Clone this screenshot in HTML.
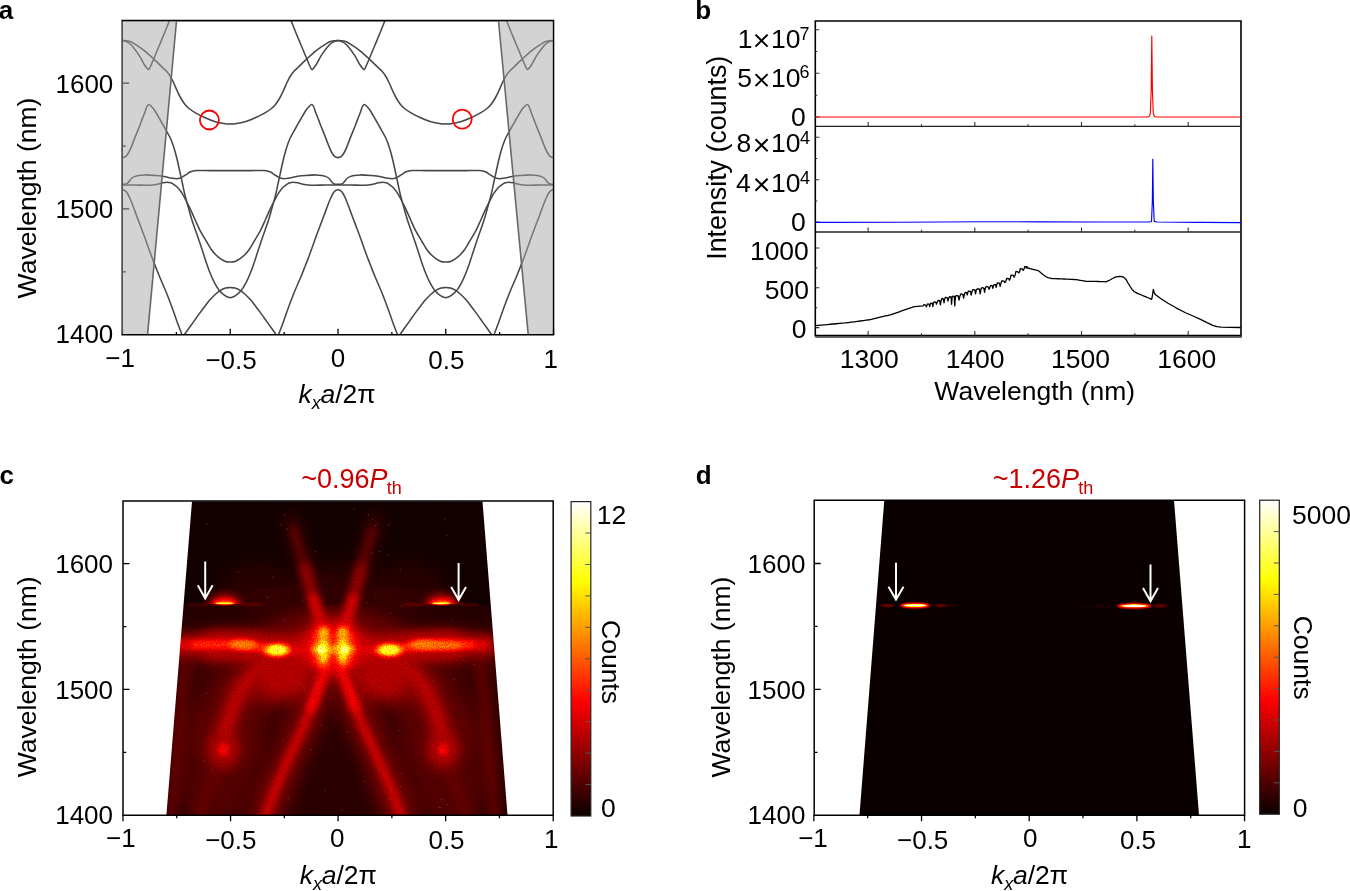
<!DOCTYPE html><html><head><meta charset="utf-8"><title>Figure</title><style>html,body{margin:0;padding:0;background:#fff;overflow:hidden}svg{display:block;will-change:transform}text{font-family:"Liberation Sans",sans-serif}</style></head><body>
<svg width="1350" height="891" viewBox="0 0 1350 891">
<rect width="1350" height="891" fill="#fff"/>
<defs>
<clipPath id="clipA"><rect x="122.2" y="20.6" width="431.3" height="314.2"/></clipPath>
<linearGradient id="hot" x1="0" y1="1" x2="0" y2="0"><stop offset="0" stop-color="#0b0000"/><stop offset="0.365" stop-color="#ff0000"/><stop offset="0.746" stop-color="#ffff00"/><stop offset="1" stop-color="#ffffff"/></linearGradient>
<filter id="b0" filterUnits="userSpaceOnUse" x="0" y="0" width="1350" height="891"><feGaussianBlur stdDeviation="0.7"/></filter>
<filter id="b1" filterUnits="userSpaceOnUse" x="0" y="0" width="1350" height="891"><feGaussianBlur stdDeviation="1"/></filter>
<filter id="b2" filterUnits="userSpaceOnUse" x="0" y="0" width="1350" height="891"><feGaussianBlur stdDeviation="2"/></filter>
<filter id="b3" filterUnits="userSpaceOnUse" x="0" y="0" width="1350" height="891"><feGaussianBlur stdDeviation="3"/></filter>
<filter id="b4" filterUnits="userSpaceOnUse" x="0" y="0" width="1350" height="891"><feGaussianBlur stdDeviation="4"/></filter>
<filter id="b5" filterUnits="userSpaceOnUse" x="0" y="0" width="1350" height="891"><feGaussianBlur stdDeviation="5"/></filter>
<filter id="b6" filterUnits="userSpaceOnUse" x="0" y="0" width="1350" height="891"><feGaussianBlur stdDeviation="6"/></filter>
<filter id="b7" filterUnits="userSpaceOnUse" x="0" y="0" width="1350" height="891"><feGaussianBlur stdDeviation="7"/></filter>
<filter id="b8" filterUnits="userSpaceOnUse" x="0" y="0" width="1350" height="891"><feGaussianBlur stdDeviation="8"/></filter>
<filter id="b9" filterUnits="userSpaceOnUse" x="0" y="0" width="1350" height="891"><feGaussianBlur stdDeviation="9"/></filter>
<filter id="b10" filterUnits="userSpaceOnUse" x="0" y="0" width="1350" height="891"><feGaussianBlur stdDeviation="10"/></filter>
<filter id="b11" filterUnits="userSpaceOnUse" x="0" y="0" width="1350" height="891"><feGaussianBlur stdDeviation="11"/></filter>
<filter id="b12" filterUnits="userSpaceOnUse" x="0" y="0" width="1350" height="891"><feGaussianBlur stdDeviation="12"/></filter>
<filter id="b13" filterUnits="userSpaceOnUse" x="0" y="0" width="1350" height="891"><feGaussianBlur stdDeviation="13"/></filter>
<filter id="b14" filterUnits="userSpaceOnUse" x="0" y="0" width="1350" height="891"><feGaussianBlur stdDeviation="14"/></filter>
<filter id="b15" filterUnits="userSpaceOnUse" x="0" y="0" width="1350" height="891"><feGaussianBlur stdDeviation="15"/></filter>
<filter id="b16" filterUnits="userSpaceOnUse" x="0" y="0" width="1350" height="891"><feGaussianBlur stdDeviation="16"/></filter>
<filter id="b17" filterUnits="userSpaceOnUse" x="0" y="0" width="1350" height="891"><feGaussianBlur stdDeviation="17"/></filter>
<filter id="b18" filterUnits="userSpaceOnUse" x="0" y="0" width="1350" height="891"><feGaussianBlur stdDeviation="18"/></filter>
<filter id="b19" filterUnits="userSpaceOnUse" x="0" y="0" width="1350" height="891"><feGaussianBlur stdDeviation="19"/></filter>
<filter id="b20" filterUnits="userSpaceOnUse" x="0" y="0" width="1350" height="891"><feGaussianBlur stdDeviation="20"/></filter>
</defs>
<g clip-path="url(#clipA)" fill="none" stroke="#474747" stroke-width="1.55" stroke-linejoin="round" stroke-linecap="round">
<path d="M122.5,40.4 C123.5,40.52 126.5,40.53 128.5,41.1 C130.5,41.67 131.82,42.18 134.5,43.8 C137.18,45.42 141.23,48.12 144.6,50.8 C147.97,53.48 151.72,57.12 154.7,59.9 C157.68,62.68 160.53,65.62 162.5,67.5 C164.47,69.38 165.28,69.87 166.5,71.2 C167.72,72.53 168.63,73.62 169.8,75.5 C170.97,77.38 172.22,79.83 173.5,82.5 C174.78,85.17 176.25,88.83 177.5,91.5 C178.75,94.17 179.75,96.33 181,98.5 C182.25,100.67 183.67,102.83 185,104.5 C186.33,106.17 187.32,107.15 189,108.5 C190.68,109.85 192.4,111.05 195.1,112.6 C197.8,114.15 201.83,116.27 205.2,117.8 C208.57,119.33 211.93,120.8 215.3,121.8 C218.67,122.8 222.99,123.45 225.4,123.8 C227.81,124.15 228.86,123.88 229.75,123.9 C230.64,123.92 229.86,123.92 230.75,123.9 C231.64,123.88 232.69,124.15 235.1,123.8 C237.51,123.45 241.83,122.8 245.2,121.8 C248.57,120.8 251.93,119.33 255.3,117.8 C258.67,116.27 262.7,114.15 265.4,112.6 C268.1,111.05 269.82,109.85 271.5,108.5 C273.18,107.15 274.17,106.17 275.5,104.5 C276.83,102.83 278.25,100.67 279.5,98.5 C280.75,96.33 281.75,94.17 283,91.5 C284.25,88.83 285.72,85.17 287,82.5 C288.28,79.83 289.53,77.38 290.7,75.5 C291.87,73.62 292.78,72.53 294,71.2 C295.22,69.87 296.03,69.38 298,67.5 C299.97,65.62 302.82,62.68 305.8,59.9 C308.78,57.12 312.53,53.48 315.9,50.8 C319.27,48.12 323.32,45.42 326,43.8 C328.68,42.18 330,41.67 332,41.1 C334,40.53 336,40.4 338,40.4 C340,40.4 342,40.53 344,41.1 C346,41.67 347.32,42.18 350,43.8 C352.68,45.42 356.73,48.12 360.1,50.8 C363.47,53.48 367.22,57.12 370.2,59.9 C373.18,62.68 376.03,65.62 378,67.5 C379.97,69.38 380.78,69.87 382,71.2 C383.22,72.53 384.13,73.62 385.3,75.5 C386.47,77.38 387.72,79.83 389,82.5 C390.28,85.17 391.75,88.83 393,91.5 C394.25,94.17 395.25,96.33 396.5,98.5 C397.75,100.67 399.17,102.83 400.5,104.5 C401.83,106.17 402.82,107.15 404.5,108.5 C406.18,109.85 407.9,111.05 410.6,112.6 C413.3,114.15 417.33,116.27 420.7,117.8 C424.07,119.33 427.43,120.8 430.8,121.8 C434.17,122.8 438.49,123.45 440.9,123.8 C443.31,124.15 444.36,123.88 445.25,123.9 C446.14,123.92 445.36,123.92 446.25,123.9 C447.14,123.88 448.19,124.15 450.6,123.8 C453.01,123.45 457.33,122.8 460.7,121.8 C464.07,120.8 467.43,119.33 470.8,117.8 C474.17,116.27 478.2,114.15 480.9,112.6 C483.6,111.05 485.32,109.85 487,108.5 C488.68,107.15 489.67,106.17 491,104.5 C492.33,102.83 493.75,100.67 495,98.5 C496.25,96.33 497.25,94.17 498.5,91.5 C499.75,88.83 501.22,85.17 502.5,82.5 C503.78,79.83 505.03,77.38 506.2,75.5 C507.37,73.62 508.28,72.53 509.5,71.2 C510.72,69.87 511.53,69.38 513.5,67.5 C515.47,65.62 518.32,62.68 521.3,59.9 C524.28,57.12 528.03,53.48 531.4,50.8 C534.77,48.12 538.82,45.42 541.5,43.8 C544.18,42.18 545.5,41.67 547.5,41.1 C549.5,40.53 552.5,40.52 553.5,40.4"/>
<path d="M122.5,40.6 C123.15,40.77 124.9,40.82 126.4,41.6 C127.9,42.38 129.48,43.17 131.5,45.3 C133.52,47.43 136.83,52.03 138.5,54.4 C140.17,56.77 140.48,57.73 141.5,59.5 C142.52,61.27 143.68,63.53 144.6,65 C145.52,66.47 146.33,67.53 147,68.3 C147.67,69.07 148.07,69.82 148.6,69.6 C149.13,69.38 149.22,69.1 150.2,67 C151.18,64.9 152.95,60.67 154.5,57 C156.05,53.33 157.83,49 159.5,45 C161.17,41 162.87,37 164.5,33 C166.13,29 167.63,25.17 169.3,21 C170.97,16.83 173.63,10.17 174.5,8"/>
<path d="M286,8 C286.87,10.17 289.53,16.83 291.2,21 C292.87,25.17 294.37,29 296,33 C297.63,37 299.33,41 301,45 C302.67,49 304.45,53.33 306,57 C307.55,60.67 309.32,64.9 310.3,67 C311.28,69.1 311.37,69.38 311.9,69.6 C312.43,69.82 312.83,69.07 313.5,68.3 C314.17,67.53 314.98,66.47 315.9,65 C316.82,63.53 317.98,61.27 319,59.5 C320.02,57.73 320.33,56.77 322,54.4 C323.67,52.03 326.98,47.43 329,45.3 C331.02,43.17 332.6,42.38 334.1,41.6 C335.6,40.82 336.7,40.6 338,40.6 C339.3,40.6 340.4,40.82 341.9,41.6 C343.4,42.38 344.98,43.17 347,45.3 C349.02,47.43 352.33,52.03 354,54.4 C355.67,56.77 355.98,57.73 357,59.5 C358.02,61.27 359.18,63.53 360.1,65 C361.02,66.47 361.83,67.53 362.5,68.3 C363.17,69.07 363.57,69.82 364.1,69.6 C364.63,69.38 364.72,69.1 365.7,67 C366.68,64.9 368.45,60.67 370,57 C371.55,53.33 373.33,49 375,45 C376.67,41 378.37,37 380,33 C381.63,29 383.13,25.17 384.8,21 C386.47,16.83 389.13,10.17 390,8"/>
<path d="M501.5,8 C502.37,10.17 505.03,16.83 506.7,21 C508.37,25.17 509.87,29 511.5,33 C513.13,37 514.83,41 516.5,45 C518.17,49 519.95,53.33 521.5,57 C523.05,60.67 524.82,64.9 525.8,67 C526.78,69.1 526.87,69.38 527.4,69.6 C527.93,69.82 528.33,69.07 529,68.3 C529.67,67.53 530.48,66.47 531.4,65 C532.32,63.53 533.48,61.27 534.5,59.5 C535.52,57.73 535.83,56.77 537.5,54.4 C539.17,52.03 542.48,47.43 544.5,45.3 C546.52,43.17 548.1,42.38 549.6,41.6 C551.1,40.82 552.85,40.77 553.5,40.6"/>
<path d="M122.5,157.6 C123.08,157.38 124.92,157.23 126,156.3 C127.08,155.37 128.08,153.63 129,152 C129.92,150.37 130.58,148.73 131.5,146.5 C132.42,144.27 133.17,141.97 134.5,138.6 C135.83,135.23 138.25,129.47 139.5,126.3 C140.75,123.13 141.15,121.82 142,119.6 C142.85,117.38 143.78,115.18 144.6,113 C145.42,110.82 146.2,107.9 146.9,106.5 C147.6,105.1 148.12,104.68 148.8,104.6 C149.48,104.52 150.02,105.02 151,106 C151.98,106.98 153.25,108.33 154.7,110.5 C156.15,112.67 158.02,116.08 159.7,119 C161.38,121.92 163.12,125 164.8,128 C166.48,131 168.52,134.42 169.8,137 C171.08,139.58 171.65,141.17 172.5,143.5 C173.35,145.83 174.07,148.08 174.9,151 C175.73,153.92 176.67,157.5 177.5,161 C178.33,164.5 179.15,168.58 179.9,172 C180.65,175.42 181.15,177.62 182,181.5 C182.85,185.38 183.92,190.88 185,195.3 C186.08,199.72 187.32,203.8 188.5,208 C189.68,212.2 190.6,215.83 192.1,220.5 C193.6,225.17 195.82,231.08 197.5,236 C199.18,240.92 200.58,245.13 202.2,250 C203.82,254.87 205.82,261.2 207.2,265.2 C208.58,269.2 209.32,271.15 210.5,274 C211.68,276.85 212.83,279.57 214.3,282.3 C215.77,285.03 217.45,288.15 219.3,290.4 C221.15,292.65 223.66,294.6 225.4,295.8 C227.14,297 228.86,297.3 229.75,297.6 C230.64,297.9 229.86,297.9 230.75,297.6 C231.64,297.3 233.36,297 235.1,295.8 C236.84,294.6 239.35,292.65 241.2,290.4 C243.05,288.15 244.73,285.03 246.2,282.3 C247.67,279.57 248.82,276.85 250,274 C251.18,271.15 251.92,269.2 253.3,265.2 C254.68,261.2 256.68,254.87 258.3,250 C259.92,245.13 261.32,240.92 263,236 C264.68,231.08 266.9,225.17 268.4,220.5 C269.9,215.83 270.82,212.2 272,208 C273.18,203.8 274.42,199.72 275.5,195.3 C276.58,190.88 277.65,185.38 278.5,181.5 C279.35,177.62 279.85,175.42 280.6,172 C281.35,168.58 282.17,164.5 283,161 C283.83,157.5 284.77,153.92 285.6,151 C286.43,148.08 287.15,145.83 288,143.5 C288.85,141.17 289.42,139.58 290.7,137 C291.98,134.42 294.02,131 295.7,128 C297.38,125 299.12,121.92 300.8,119 C302.48,116.08 304.35,112.67 305.8,110.5 C307.25,108.33 308.52,106.98 309.5,106 C310.48,105.02 311.02,104.52 311.7,104.6 C312.38,104.68 312.9,105.1 313.6,106.5 C314.3,107.9 315.08,110.82 315.9,113 C316.72,115.18 317.65,117.38 318.5,119.6 C319.35,121.82 319.75,123.13 321,126.3 C322.25,129.47 324.67,135.23 326,138.6 C327.33,141.97 328.08,144.27 329,146.5 C329.92,148.73 330.58,150.37 331.5,152 C332.42,153.63 333.42,155.37 334.5,156.3 C335.58,157.23 336.83,157.6 338,157.6 C339.17,157.6 340.42,157.23 341.5,156.3 C342.58,155.37 343.58,153.63 344.5,152 C345.42,150.37 346.08,148.73 347,146.5 C347.92,144.27 348.67,141.97 350,138.6 C351.33,135.23 353.75,129.47 355,126.3 C356.25,123.13 356.65,121.82 357.5,119.6 C358.35,117.38 359.28,115.18 360.1,113 C360.92,110.82 361.7,107.9 362.4,106.5 C363.1,105.1 363.62,104.68 364.3,104.6 C364.98,104.52 365.52,105.02 366.5,106 C367.48,106.98 368.75,108.33 370.2,110.5 C371.65,112.67 373.52,116.08 375.2,119 C376.88,121.92 378.62,125 380.3,128 C381.98,131 384.02,134.42 385.3,137 C386.58,139.58 387.15,141.17 388,143.5 C388.85,145.83 389.57,148.08 390.4,151 C391.23,153.92 392.17,157.5 393,161 C393.83,164.5 394.65,168.58 395.4,172 C396.15,175.42 396.65,177.62 397.5,181.5 C398.35,185.38 399.42,190.88 400.5,195.3 C401.58,199.72 402.82,203.8 404,208 C405.18,212.2 406.1,215.83 407.6,220.5 C409.1,225.17 411.32,231.08 413,236 C414.68,240.92 416.08,245.13 417.7,250 C419.32,254.87 421.32,261.2 422.7,265.2 C424.08,269.2 424.82,271.15 426,274 C427.18,276.85 428.33,279.57 429.8,282.3 C431.27,285.03 432.95,288.15 434.8,290.4 C436.65,292.65 439.16,294.6 440.9,295.8 C442.64,297 444.36,297.3 445.25,297.6 C446.14,297.9 445.36,297.9 446.25,297.6 C447.14,297.3 448.86,297 450.6,295.8 C452.34,294.6 454.85,292.65 456.7,290.4 C458.55,288.15 460.23,285.03 461.7,282.3 C463.17,279.57 464.32,276.85 465.5,274 C466.68,271.15 467.42,269.2 468.8,265.2 C470.18,261.2 472.18,254.87 473.8,250 C475.42,245.13 476.82,240.92 478.5,236 C480.18,231.08 482.4,225.17 483.9,220.5 C485.4,215.83 486.32,212.2 487.5,208 C488.68,203.8 489.92,199.72 491,195.3 C492.08,190.88 493.15,185.38 494,181.5 C494.85,177.62 495.35,175.42 496.1,172 C496.85,168.58 497.67,164.5 498.5,161 C499.33,157.5 500.27,153.92 501.1,151 C501.93,148.08 502.65,145.83 503.5,143.5 C504.35,141.17 504.92,139.58 506.2,137 C507.48,134.42 509.52,131 511.2,128 C512.88,125 514.62,121.92 516.3,119 C517.98,116.08 519.85,112.67 521.3,110.5 C522.75,108.33 524.02,106.98 525,106 C525.98,105.02 526.52,104.52 527.2,104.6 C527.88,104.68 528.4,105.1 529.1,106.5 C529.8,107.9 530.58,110.82 531.4,113 C532.22,115.18 533.15,117.38 534,119.6 C534.85,121.82 535.25,123.13 536.5,126.3 C537.75,129.47 540.17,135.23 541.5,138.6 C542.83,141.97 543.58,144.27 544.5,146.5 C545.42,148.73 546.08,150.37 547,152 C547.92,153.63 548.92,155.37 550,156.3 C551.08,157.23 552.92,157.38 553.5,157.6"/>
<path d="M122.5,184.2 C123.08,184.17 125.08,184.23 126,184 C126.92,183.77 127.33,183.43 128,182.8 C128.67,182.17 129.33,181 130,180.2 C130.67,179.4 131.25,178.6 132,178 C132.75,177.4 133.42,177.02 134.5,176.6 C135.58,176.18 136.82,175.78 138.5,175.5 C140.18,175.22 141.77,174.92 144.6,174.9 C147.43,174.88 152.47,175.18 155.5,175.4 C158.53,175.62 160.92,175.92 162.8,176.2 C164.68,176.48 165.18,176.75 166.8,177.1 C168.42,177.45 170.88,178.03 172.5,178.3 C174.12,178.57 175.33,178.7 176.5,178.7 C177.67,178.7 178.42,178.63 179.5,178.3 C180.58,177.97 181.83,177.37 183,176.7 C184.17,176.03 185.33,175.08 186.5,174.3 C187.67,173.52 188.83,172.55 190,172 C191.17,171.45 192.32,171.23 193.5,171 C194.68,170.77 194.27,170.67 197.1,170.6 C199.93,170.53 205.06,170.6 210.5,170.6 C215.94,170.6 226.38,170.6 229.75,170.6 C233.12,170.6 227.38,170.6 230.75,170.6 C234.12,170.6 244.56,170.6 250,170.6 C255.44,170.6 260.57,170.53 263.4,170.6 C266.23,170.67 265.82,170.77 267,171 C268.18,171.23 269.33,171.45 270.5,172 C271.67,172.55 272.83,173.52 274,174.3 C275.17,175.08 276.33,176.03 277.5,176.7 C278.67,177.37 279.92,177.97 281,178.3 C282.08,178.63 282.83,178.7 284,178.7 C285.17,178.7 286.38,178.57 288,178.3 C289.62,178.03 292.08,177.45 293.7,177.1 C295.32,176.75 295.82,176.48 297.7,176.2 C299.58,175.92 301.97,175.62 305,175.4 C308.03,175.18 313.07,174.88 315.9,174.9 C318.73,174.92 320.32,175.22 322,175.5 C323.68,175.78 324.92,176.18 326,176.6 C327.08,177.02 327.75,177.4 328.5,178 C329.25,178.6 329.83,179.4 330.5,180.2 C331.17,181 331.83,182.17 332.5,182.8 C333.17,183.43 333.58,183.77 334.5,184 C335.42,184.23 336.83,184.2 338,184.2 C339.17,184.2 340.58,184.23 341.5,184 C342.42,183.77 342.83,183.43 343.5,182.8 C344.17,182.17 344.83,181 345.5,180.2 C346.17,179.4 346.75,178.6 347.5,178 C348.25,177.4 348.92,177.02 350,176.6 C351.08,176.18 352.32,175.78 354,175.5 C355.68,175.22 357.27,174.92 360.1,174.9 C362.93,174.88 367.97,175.18 371,175.4 C374.03,175.62 376.42,175.92 378.3,176.2 C380.18,176.48 380.68,176.75 382.3,177.1 C383.92,177.45 386.38,178.03 388,178.3 C389.62,178.57 390.83,178.7 392,178.7 C393.17,178.7 393.92,178.63 395,178.3 C396.08,177.97 397.33,177.37 398.5,176.7 C399.67,176.03 400.83,175.08 402,174.3 C403.17,173.52 404.33,172.55 405.5,172 C406.67,171.45 407.82,171.23 409,171 C410.18,170.77 409.77,170.67 412.6,170.6 C415.43,170.53 420.56,170.6 426,170.6 C431.44,170.6 441.88,170.6 445.25,170.6 C448.62,170.6 442.88,170.6 446.25,170.6 C449.62,170.6 460.06,170.6 465.5,170.6 C470.94,170.6 476.07,170.53 478.9,170.6 C481.73,170.67 481.32,170.77 482.5,171 C483.68,171.23 484.83,171.45 486,172 C487.17,172.55 488.33,173.52 489.5,174.3 C490.67,175.08 491.83,176.03 493,176.7 C494.17,177.37 495.42,177.97 496.5,178.3 C497.58,178.63 498.33,178.7 499.5,178.7 C500.67,178.7 501.88,178.57 503.5,178.3 C505.12,178.03 507.58,177.45 509.2,177.1 C510.82,176.75 511.32,176.48 513.2,176.2 C515.08,175.92 517.47,175.62 520.5,175.4 C523.53,175.18 528.57,174.88 531.4,174.9 C534.23,174.92 535.82,175.22 537.5,175.5 C539.18,175.78 540.42,176.18 541.5,176.6 C542.58,177.02 543.25,177.4 544,178 C544.75,178.6 545.33,179.4 546,180.2 C546.67,181 547.33,182.17 548,182.8 C548.67,183.43 549.08,183.77 550,184 C550.92,184.23 552.92,184.17 553.5,184.2"/>
<path d="M122.5,185 C124.5,185 130.67,184.97 134.5,185 C138.33,185.03 142.47,185.18 145.5,185.2 C148.53,185.22 150.53,185.32 152.7,185.1 C154.87,184.88 156.82,184.3 158.5,183.9 C160.18,183.5 161.63,182.95 162.8,182.7 C163.97,182.45 164.5,182.45 165.5,182.4 C166.5,182.35 167.8,182.3 168.8,182.4 C169.8,182.5 170.48,182.52 171.5,183 C172.52,183.48 173.73,184.38 174.9,185.3 C176.07,186.22 177.32,187.18 178.5,188.5 C179.68,189.82 180.83,191.37 182,193.2 C183.17,195.03 184.17,196.97 185.5,199.5 C186.83,202.03 188.42,205.07 190,208.4 C191.58,211.73 193.32,215.8 195,219.5 C196.68,223.2 198.18,226.93 200.1,230.6 C202.02,234.27 204.63,238.35 206.5,241.5 C208.37,244.65 209.8,247.33 211.3,249.5 C212.8,251.67 214,252.98 215.5,254.5 C217,256.02 218.63,257.45 220.3,258.6 C221.97,259.75 223.93,260.83 225.5,261.4 C227.07,261.97 228.88,261.9 229.75,262 C230.62,262.1 229.88,262.1 230.75,262 C231.62,261.9 233.43,261.97 235,261.4 C236.57,260.83 238.53,259.75 240.2,258.6 C241.87,257.45 243.5,256.02 245,254.5 C246.5,252.98 247.7,251.67 249.2,249.5 C250.7,247.33 252.13,244.65 254,241.5 C255.87,238.35 258.48,234.27 260.4,230.6 C262.32,226.93 263.82,223.2 265.5,219.5 C267.18,215.8 268.92,211.73 270.5,208.4 C272.08,205.07 273.67,202.03 275,199.5 C276.33,196.97 277.33,195.03 278.5,193.2 C279.67,191.37 280.82,189.82 282,188.5 C283.18,187.18 284.43,186.22 285.6,185.3 C286.77,184.38 287.98,183.48 289,183 C290.02,182.52 290.7,182.5 291.7,182.4 C292.7,182.3 294,182.35 295,182.4 C296,182.45 296.53,182.45 297.7,182.7 C298.87,182.95 300.32,183.5 302,183.9 C303.68,184.3 305.63,184.88 307.8,185.1 C309.97,185.32 311.97,185.22 315,185.2 C318.03,185.18 322.17,185.03 326,185 C329.83,184.97 334,185 338,185 C342,185 346.17,184.97 350,185 C353.83,185.03 357.97,185.18 361,185.2 C364.03,185.22 366.03,185.32 368.2,185.1 C370.37,184.88 372.32,184.3 374,183.9 C375.68,183.5 377.13,182.95 378.3,182.7 C379.47,182.45 380,182.45 381,182.4 C382,182.35 383.3,182.3 384.3,182.4 C385.3,182.5 385.98,182.52 387,183 C388.02,183.48 389.23,184.38 390.4,185.3 C391.57,186.22 392.82,187.18 394,188.5 C395.18,189.82 396.33,191.37 397.5,193.2 C398.67,195.03 399.67,196.97 401,199.5 C402.33,202.03 403.92,205.07 405.5,208.4 C407.08,211.73 408.82,215.8 410.5,219.5 C412.18,223.2 413.68,226.93 415.6,230.6 C417.52,234.27 420.13,238.35 422,241.5 C423.87,244.65 425.3,247.33 426.8,249.5 C428.3,251.67 429.5,252.98 431,254.5 C432.5,256.02 434.13,257.45 435.8,258.6 C437.47,259.75 439.43,260.83 441,261.4 C442.57,261.97 444.38,261.9 445.25,262 C446.12,262.1 445.38,262.1 446.25,262 C447.12,261.9 448.93,261.97 450.5,261.4 C452.07,260.83 454.03,259.75 455.7,258.6 C457.37,257.45 459,256.02 460.5,254.5 C462,252.98 463.2,251.67 464.7,249.5 C466.2,247.33 467.63,244.65 469.5,241.5 C471.37,238.35 473.98,234.27 475.9,230.6 C477.82,226.93 479.32,223.2 481,219.5 C482.68,215.8 484.42,211.73 486,208.4 C487.58,205.07 489.17,202.03 490.5,199.5 C491.83,196.97 492.83,195.03 494,193.2 C495.17,191.37 496.32,189.82 497.5,188.5 C498.68,187.18 499.93,186.22 501.1,185.3 C502.27,184.38 503.48,183.48 504.5,183 C505.52,182.52 506.2,182.5 507.2,182.4 C508.2,182.3 509.5,182.35 510.5,182.4 C511.5,182.45 512.03,182.45 513.2,182.7 C514.37,182.95 515.82,183.5 517.5,183.9 C519.18,184.3 521.13,184.88 523.3,185.1 C525.47,185.32 527.47,185.22 530.5,185.2 C533.53,185.18 537.67,185.03 541.5,185 C545.33,184.97 551.5,185 553.5,185"/>
<path d="M179.5,342 C180.25,340.87 182.25,337.73 184,335.2 C185.75,332.67 188.17,329.38 190,326.8 C191.83,324.22 193.32,322.07 195,319.7 C196.68,317.33 198.35,314.97 200.1,312.6 C201.85,310.23 203.82,307.67 205.5,305.5 C207.18,303.33 208.53,301.47 210.2,299.6 C211.87,297.73 213.82,295.83 215.5,294.3 C217.18,292.77 218.63,291.45 220.3,290.4 C221.97,289.35 223.93,288.47 225.5,288 C227.07,287.53 228.88,287.67 229.75,287.6 C230.62,287.53 229.88,287.53 230.75,287.6 C231.62,287.67 233.43,287.53 235,288 C236.57,288.47 238.53,289.35 240.2,290.4 C241.87,291.45 243.32,292.77 245,294.3 C246.68,295.83 248.63,297.73 250.3,299.6 C251.97,301.47 253.32,303.33 255,305.5 C256.68,307.67 258.65,310.23 260.4,312.6 C262.15,314.97 263.82,317.33 265.5,319.7 C267.18,322.07 268.67,324.22 270.5,326.8 C272.33,329.38 274.75,332.67 276.5,335.2 C278.25,337.73 280.25,340.87 281,342"/>
<path d="M395,342 C395.75,340.87 397.75,337.73 399.5,335.2 C401.25,332.67 403.67,329.38 405.5,326.8 C407.33,324.22 408.82,322.07 410.5,319.7 C412.18,317.33 413.85,314.97 415.6,312.6 C417.35,310.23 419.32,307.67 421,305.5 C422.68,303.33 424.03,301.47 425.7,299.6 C427.37,297.73 429.32,295.83 431,294.3 C432.68,292.77 434.13,291.45 435.8,290.4 C437.47,289.35 439.43,288.47 441,288 C442.57,287.53 444.38,287.67 445.25,287.6 C446.12,287.53 445.38,287.53 446.25,287.6 C447.12,287.67 448.93,287.53 450.5,288 C452.07,288.47 454.03,289.35 455.7,290.4 C457.37,291.45 458.82,292.77 460.5,294.3 C462.18,295.83 464.13,297.73 465.8,299.6 C467.47,301.47 468.82,303.33 470.5,305.5 C472.18,307.67 474.15,310.23 475.9,312.6 C477.65,314.97 479.32,317.33 481,319.7 C482.68,322.07 484.17,324.22 486,326.8 C487.83,329.38 490.25,332.67 492,335.2 C493.75,337.73 495.75,340.87 496.5,342"/>
<path d="M122.5,189.7 C122.92,189.85 124.17,189.97 125,190.6 C125.83,191.23 126.67,192.18 127.5,193.5 C128.33,194.82 129.08,196.42 130,198.5 C130.92,200.58 131.92,203.17 133,206 C134.08,208.83 135.25,212.17 136.5,215.5 C137.75,218.83 139.15,222.42 140.5,226 C141.85,229.58 143.27,233.33 144.6,237 C145.93,240.67 147.27,244.58 148.5,248 C149.73,251.42 150.83,254.42 152,257.5 C153.17,260.58 154.22,263.25 155.5,266.5 C156.78,269.75 158.03,273 159.7,277 C161.37,281 163.82,286.42 165.5,290.5 C167.18,294.58 168.47,298 169.8,301.5 C171.13,305 172.22,307.92 173.5,311.5 C174.78,315.08 176.08,319.15 177.5,323 C178.92,326.85 180.75,331.43 182,334.6 C183.25,337.77 184.5,340.77 185,342"/>
<path d="M275.5,342 C276,340.77 277.25,337.77 278.5,334.6 C279.75,331.43 281.58,326.85 283,323 C284.42,319.15 285.72,315.08 287,311.5 C288.28,307.92 289.37,305 290.7,301.5 C292.03,298 293.32,294.58 295,290.5 C296.68,286.42 299.13,281 300.8,277 C302.47,273 303.72,269.75 305,266.5 C306.28,263.25 307.33,260.58 308.5,257.5 C309.67,254.42 310.77,251.42 312,248 C313.23,244.58 314.57,240.67 315.9,237 C317.23,233.33 318.65,229.58 320,226 C321.35,222.42 322.75,218.83 324,215.5 C325.25,212.17 326.42,208.83 327.5,206 C328.58,203.17 329.58,200.58 330.5,198.5 C331.42,196.42 332.17,194.82 333,193.5 C333.83,192.18 334.67,191.23 335.5,190.6 C336.33,189.97 337.17,189.7 338,189.7 C338.83,189.7 339.67,189.97 340.5,190.6 C341.33,191.23 342.17,192.18 343,193.5 C343.83,194.82 344.58,196.42 345.5,198.5 C346.42,200.58 347.42,203.17 348.5,206 C349.58,208.83 350.75,212.17 352,215.5 C353.25,218.83 354.65,222.42 356,226 C357.35,229.58 358.77,233.33 360.1,237 C361.43,240.67 362.77,244.58 364,248 C365.23,251.42 366.33,254.42 367.5,257.5 C368.67,260.58 369.72,263.25 371,266.5 C372.28,269.75 373.53,273 375.2,277 C376.87,281 379.32,286.42 381,290.5 C382.68,294.58 383.97,298 385.3,301.5 C386.63,305 387.72,307.92 389,311.5 C390.28,315.08 391.58,319.15 393,323 C394.42,326.85 396.25,331.43 397.5,334.6 C398.75,337.77 400,340.77 400.5,342"/>
<path d="M491,342 C491.5,340.77 492.75,337.77 494,334.6 C495.25,331.43 497.08,326.85 498.5,323 C499.92,319.15 501.22,315.08 502.5,311.5 C503.78,307.92 504.87,305 506.2,301.5 C507.53,298 508.82,294.58 510.5,290.5 C512.18,286.42 514.63,281 516.3,277 C517.97,273 519.22,269.75 520.5,266.5 C521.78,263.25 522.83,260.58 524,257.5 C525.17,254.42 526.27,251.42 527.5,248 C528.73,244.58 530.07,240.67 531.4,237 C532.73,233.33 534.15,229.58 535.5,226 C536.85,222.42 538.25,218.83 539.5,215.5 C540.75,212.17 541.92,208.83 543,206 C544.08,203.17 545.08,200.58 546,198.5 C546.92,196.42 547.67,194.82 548.5,193.5 C549.33,192.18 550.17,191.23 551,190.6 C551.83,189.97 553.08,189.85 553.5,189.7"/>
</g>
<g fill="none" stroke="#000" stroke-width="1.6">
<path d="M122.2,20.6 H553.5 V334.8 H122.2 Z"/>
</g>
<path d="M122.5,334.8 v-6 M230.25,334.8 v-6 M338,334.8 v-6 M445.75,334.8 v-6 M553.5,334.8 v-6 M176.38,334.8 v-2.8 M284.12,334.8 v-2.8 M391.88,334.8 v-2.8 M499.62,334.8 v-2.8 M122.2,208.96 h7 M122.2,83.12 h7 M122.2,271.88 h3.5 M122.2,146.04 h3.5" stroke="#000" stroke-width="1.3" fill="none"/>
<path d="M121.3,21.3 L176.5,21.3 L147.6,334.1 L121.3,334.1 Z" fill="rgb(167,167,167)" fill-opacity="0.5"/>
<path d="M498.5,21.3 L552.8,21.3 L552.8,334.1 L528.2,334.1 Z" fill="rgb(167,167,167)" fill-opacity="0.5"/>
<path d="M176.5,21 L147.6,334.4 M498.5,21 L528.2,334.4" stroke="#686868" stroke-width="1.6" fill="none"/>
<circle cx="209.4" cy="120" r="9.5" fill="none" stroke="#ff0000" stroke-width="1.8"/>
<circle cx="462.2" cy="119.2" r="9.5" fill="none" stroke="#ff0000" stroke-width="1.8"/>
<text x="-1.36" y="19.1" font-size="26" font-weight="bold" fill="#000">a</text>
<text x="55.49" y="92.8" font-size="26" fill="#000">1600</text>
<text x="55.49" y="218.3" font-size="26" fill="#000">1500</text>
<text x="55.49" y="343.2" font-size="26" fill="#000">1400</text>
<text x="105.28" y="366.8" font-size="26" fill="#000">−1</text>
<text x="205.39" y="368.7" font-size="26" fill="#000">−0.5</text>
<text x="330.69" y="366.8" font-size="26" fill="#000">0</text>
<text x="428.23" y="368.9" font-size="26" fill="#000">0.5</text>
<text x="543.46" y="367.9" font-size="26" fill="#000">1</text>
<text transform="translate(36,198) rotate(-90)" text-anchor="middle" font-size="26.5" fill="#000">Wavelength (nm)</text>
<text x="298.55" y="402.8" font-size="26.5" font-style="italic" fill="#000">k</text>
<text x="311.8" y="409.4" font-size="18" font-style="italic">x</text>
<text x="320.5" y="402.8" font-size="26.5"><tspan font-style="italic">a</tspan>/2π</text>
<path d="M815.3,21 H1241 V335.6 H815.3 Z" fill="none" stroke="#000" stroke-width="1.6"/>
<path d="M815.3,337.1 H1241.8 M1241,335 V337.8" fill="none" stroke="#333" stroke-width="1.1"/>
<path d="M815.3,126.4 H1241 M815.3,232 H1241" stroke="#222" stroke-width="1.3" fill="none"/>
<path d="M868.14,126.4 v-4.4 M974.82,126.4 v-4.4 M1081.5,126.4 v-4.4 M1188.18,126.4 v-4.4 M921.48,126.4 v-2.2 M1028.16,126.4 v-2.2 M1134.84,126.4 v-2.2 M868.14,232 v-4.4 M974.82,232 v-4.4 M1081.5,232 v-4.4 M1188.18,232 v-4.4 M921.48,232 v-2.2 M1028.16,232 v-2.2 M1134.84,232 v-2.2 M868.14,335.4 v-4.4 M974.82,335.4 v-4.4 M1081.5,335.4 v-4.4 M1188.18,335.4 v-4.4 M921.48,335.4 v-2.2 M1028.16,335.4 v-2.2 M1134.84,335.4 v-2.2 M815.3,29.7 h4 M815.3,73.2 h4 M815.3,117 h4 M815.3,137.2 h4 M815.3,179.7 h4 M815.3,222 h4 M815.3,248 h4 M815.3,287.8 h4 M815.3,327.6 h4 M815.3,51.5 h2 M815.3,95.2 h2 M815.3,158.5 h2 M815.3,201 h2 M815.3,267.9 h2 M815.3,307.7 h2" stroke="#333" stroke-width="1.1" fill="none"/>
<path d="M815.5,117 L1146.5,117 L1149,116.6 L1150.3,114 L1151.2,90 L1151.8,36 L1152.4,90 L1153.3,114 L1154.6,116.6 L1157,117 L1241,117" fill="none" stroke="#ff0000" stroke-width="1.15" stroke-linejoin="round"/>
<path d="M815.5,222.4 L900,222.2 L980,221.7 L1040,221.8 L1100,222 L1149,222 L1151.5,221.5 L1152.4,200 L1152.8,159.2 L1153.3,200 L1154.2,221.4 L1157,222 L1200,222.4 L1241,222.6" fill="none" stroke="#0000ff" stroke-width="1.15" stroke-linejoin="round"/>
<path d="M815.3,325.6 L818.3,325.33 L821.3,325.07 L824.3,324.8 L827.3,324.53 L830.3,324.26 L833.3,324 L836.3,323.73 L839.3,323.46 L842.3,323.19 L845.3,322.93 L848.3,322.55 L851.3,322.16 L854.3,321.77 L857.3,321.38 L860.3,320.99 L863.3,320.6 L866.3,320.21 L869.3,319.76 L872.3,319.05 L875.3,318.35 L878.3,317.65 L881.3,316.94 L884.3,316.24 L887.3,315.53 L890.3,314.8 L893.3,313.78 L896.3,312.77 L899.3,311.76 L902.3,310.74 L905.3,309.7 L908.3,308.63 L911.3,307.55 L914.3,306.73 L917.3,306.3 L920.3,306.04 L923.3,305.83 L924,304.72 L925.67,305.14 L926.3,306.87 L926.97,305.24 L927.71,303.82 L929.13,304.1 L929.67,306.54 L930.24,304.2 L930.87,303.1 L932.28,303.22 L932.81,306.68 L933.37,303.32 L934,301.97 L935.78,302.12 L936.45,304.18 L937.16,302.22 L937.95,300.41 L939.72,300.57 L940.39,304.79 L941.1,300.67 L941.89,298.45 L943.46,299.03 L944.05,302.79 L944.68,299.13 L945.38,297.27 L947.3,297.86 L948.03,301.03 L948.79,297.96 L949.65,296.54 L951.04,296.79 L951.57,304.32 L952.13,296.89 L952.75,296.11 L954.24,296.36 L954.81,305.96 L955.4,296.46 L956.07,295.56 L958.23,295.95 L959.04,300.13 L959.9,296.05 L960.86,293.9 L962.85,294.27 L963.59,298 L964.39,294.37 L965.27,292.4 L966.68,292.6 L967.21,294.97 L967.78,292.7 L968.41,291.03 L970.43,291.29 L971.2,295.21 L972,291.39 L972.9,289.58 L974.83,289.83 L975.56,293.84 L976.33,289.93 L977.19,288.78 L979.33,289 L980.14,293.77 L980.99,289.1 L981.94,287.55 L983.86,288.09 L984.58,292.33 L985.35,288.19 L986.2,286.49 L988.28,287.08 L989.06,289.38 L989.89,287.18 L990.81,285.38 L992.28,285.86 L992.83,288.43 L993.42,285.96 L994.07,284.6 L995.57,284.71 L996.14,287.43 L996.74,284.81 L997.4,282.79 L999.41,283.18 L1000.17,286.39 L1000.98,283.28 L1001.87,280.78 L1004.09,281.23 L1004.93,282.58 L1005.81,281.33 L1006.8,278.28 L1008.74,278.61 L1009.47,280.2 L1010.24,278.71 L1011.11,275.02 L1013.29,275.36 L1014.11,277.22 L1014.98,275.46 L1015.95,271.45 L1017.96,271.9 L1018.72,272.79 L1019.52,272 L1020.42,268.53 L1022.41,269.04 L1023.16,270.43 L1023.95,269.14 L1024.84,266.47 L1026.47,266.9 L1027.09,268.01 L1027.74,267 L1026,267.77 L1028,268.24 L1030,268.7 L1032,269.15 L1034,269.6 L1036,270.05 L1038,270.51 L1040,271.96 L1042,273.65 L1044,275.26 L1046,276.77 L1048,277.62 L1050,278.11 L1052,278.6 L1054,278.65 L1056,278.7 L1058,278.75 L1060,278.8 L1062,278.9 L1064,279 L1066,279.1 L1068,279.2 L1070,279.29 L1072,279.39 L1074,279.49 L1076,279.59 L1078,279.92 L1080,280.27 L1082,280.63 L1084,280.98 L1086,281.3 L1088,281.32 L1090,281.34 L1092,281.36 L1094,281.38 L1096,281.4 L1098,281.48 L1100,281.56 L1102,281.64 L1104,281.72 L1106,281.8 L1108,280.94 L1110,279.98 L1112,278.72 L1114,277.71 L1116,276.8 L1118,276.55 L1120,276.3 L1122,276.63 L1124,277.41 L1126,279.44 L1128,283 L1130,286.24 L1132,289.33 L1134,291.5 L1136,292.55 L1138,293.6 L1140,294.43 L1142,295.26 L1144,296.09 L1146,296.92 L1148,297.77 L1150,298.62 L1151.6,299.3 L1152.2,297 L1153.3,289.5 L1154.2,292.5 L1155.3,294.6 L1161,298.8 L1168,303.2 L1176,307.8 L1185,312.5 L1193,316 L1200,319.1 L1207,322.7 L1212.7,325.4 L1217,326.7 L1221.2,327.1 L1230,327.4 L1240.6,327.5" fill="none" stroke="#000" stroke-width="1.3" stroke-linejoin="round"/>
<text x="695.31" y="18.9" font-size="26" font-weight="bold" fill="#000">b</text>
<text x="737.71" y="47.6" font-size="26.5" fill="#000">1</text>
<path d="M755.5,34.6 L767.6,46.6 M755.5,46.6 L767.6,34.6" stroke="#000" stroke-width="2" fill="none"/>
<text x="771.04" y="47.6" font-size="26.5" fill="#000">10</text>
<text x="799.6" y="39.8" font-size="18" fill="#000">7</text>
<text x="737.34" y="87.1" font-size="26.5" fill="#000">5</text>
<path d="M755.5,74.1 L767.6,86.1 M755.5,86.1 L767.6,74.1" stroke="#000" stroke-width="2" fill="none"/>
<text x="771.04" y="87.1" font-size="26.5" fill="#000">10</text>
<text x="799.6" y="78.1" font-size="18" fill="#000">6</text>
<text x="736.41" y="152.2" font-size="26.5" fill="#000">8</text>
<path d="M755.5,139.2 L767.6,151.2 M755.5,151.2 L767.6,139.2" stroke="#000" stroke-width="2" fill="none"/>
<text x="771.04" y="152.2" font-size="26.5" fill="#000">10</text>
<text x="800.05" y="143.9" font-size="18" fill="#000">4</text>
<text x="736.04" y="191.7" font-size="26.5" fill="#000">4</text>
<path d="M755.5,178.7 L767.6,190.7 M755.5,190.7 L767.6,178.7" stroke="#000" stroke-width="2" fill="none"/>
<text x="771.04" y="191.7" font-size="26.5" fill="#000">10</text>
<text x="800.05" y="183.9" font-size="18" fill="#000">4</text>
<text x="790.95" y="126.4" font-size="26.5" fill="#000">0</text>
<text x="790.95" y="230.5" font-size="26.5" fill="#000">0</text>
<text x="791.65" y="338.2" font-size="26.5" fill="#000">0</text>
<text x="749.9" y="260" font-size="26.5" fill="#000">1000</text>
<text x="764.74" y="299.4" font-size="26.5" fill="#000">500</text>
<text x="839.75" y="368" font-size="26.5" fill="#000">1300</text>
<text x="945.65" y="368" font-size="26.5" fill="#000">1400</text>
<text x="1051.06" y="368" font-size="26.5" fill="#000">1500</text>
<text x="1157.26" y="368" font-size="26.5" fill="#000">1600</text>
<text x="934.37" y="400.3" font-size="26.5" fill="#000">Wavelength (nm)</text>
<text transform="translate(726.2,157.8) rotate(-90)" text-anchor="middle" font-size="26.8" fill="#000">Intensity (counts)</text>
<defs>
<filter id="hotmap" x="0" y="0" width="1" height="1" color-interpolation-filters="sRGB"><feColorMatrix type="matrix" values="0.333 0.333 0.333 0 0  0.333 0.333 0.333 0 0  0.333 0.333 0.333 0 0  0 0 0 0 1"/><feComponentTransfer><feFuncR type="table" tableValues="0.0416 0.0418 0.0422 0.0430 0.0442 0.0456 0.0474 0.0495 0.0519 0.0546 0.0576 0.0610 0.0647 0.0687 0.0730 0.0777 0.0826 0.0879 0.0935 0.0995 0.1057 0.1123 0.1192 0.1264 0.1339 0.1418 0.1499 0.1584 0.1672 0.1764 0.1858 0.1956 0.2057 0.2161 0.2269 0.2379 0.2493 0.2610 0.2730 0.2854 0.2980 0.3110 0.3243 0.3379 0.3519 0.3661 0.3807 0.3956 0.4108 0.4264 0.4423 0.4584 0.4750 0.4918 0.5089 0.5264 0.5442 0.5623 0.5807 0.5995 0.6185 0.6379 0.6577 0.6777 0.6980 0.7187 0.7397 0.7610 0.7827 0.8046 0.8269 0.8495 0.8724 0.8956 0.9192 0.9431 0.9673 0.9918 1.0000 1.0000 1.0000 1.0000 1.0000 1.0000 1.0000 1.0000 1.0000 1.0000 1.0000 1.0000 1.0000 1.0000 1.0000 1.0000 1.0000 1.0000 1.0000 1.0000 1.0000 1.0000 1.0000 1.0000 1.0000 1.0000 1.0000 1.0000 1.0000 1.0000 1.0000 1.0000 1.0000 1.0000 1.0000 1.0000 1.0000 1.0000 1.0000 1.0000 1.0000 1.0000 1.0000 1.0000 1.0000 1.0000 1.0000 1.0000 1.0000 1.0000 1.0000"/><feFuncG type="table" tableValues="0.0000 0.0000 0.0000 0.0000 0.0000 0.0000 0.0000 0.0000 0.0000 0.0000 0.0000 0.0000 0.0000 0.0000 0.0000 0.0000 0.0000 0.0000 0.0000 0.0000 0.0000 0.0000 0.0000 0.0000 0.0000 0.0000 0.0000 0.0000 0.0000 0.0000 0.0000 0.0000 0.0000 0.0000 0.0000 0.0000 0.0000 0.0000 0.0000 0.0000 0.0000 0.0000 0.0000 0.0000 0.0000 0.0000 0.0000 0.0000 0.0000 0.0000 0.0000 0.0000 0.0000 0.0000 0.0000 0.0000 0.0000 0.0000 0.0000 0.0000 0.0000 0.0000 0.0000 0.0000 0.0000 0.0000 0.0000 0.0000 0.0000 0.0000 0.0000 0.0000 0.0000 0.0000 0.0000 0.0000 0.0000 0.0000 0.0166 0.0418 0.0673 0.0930 0.1192 0.1456 0.1723 0.1994 0.2268 0.2545 0.2826 0.3109 0.3396 0.3686 0.3979 0.4275 0.4575 0.4878 0.5184 0.5493 0.5805 0.6121 0.6440 0.6762 0.7087 0.7415 0.7747 0.8082 0.8420 0.8761 0.9105 0.9453 0.9804 1.0000 1.0000 1.0000 1.0000 1.0000 1.0000 1.0000 1.0000 1.0000 1.0000 1.0000 1.0000 1.0000 1.0000 1.0000 1.0000 1.0000 1.0000"/><feFuncB type="table" tableValues="0.0000 0.0000 0.0000 0.0000 0.0000 0.0000 0.0000 0.0000 0.0000 0.0000 0.0000 0.0000 0.0000 0.0000 0.0000 0.0000 0.0000 0.0000 0.0000 0.0000 0.0000 0.0000 0.0000 0.0000 0.0000 0.0000 0.0000 0.0000 0.0000 0.0000 0.0000 0.0000 0.0000 0.0000 0.0000 0.0000 0.0000 0.0000 0.0000 0.0000 0.0000 0.0000 0.0000 0.0000 0.0000 0.0000 0.0000 0.0000 0.0000 0.0000 0.0000 0.0000 0.0000 0.0000 0.0000 0.0000 0.0000 0.0000 0.0000 0.0000 0.0000 0.0000 0.0000 0.0000 0.0000 0.0000 0.0000 0.0000 0.0000 0.0000 0.0000 0.0000 0.0000 0.0000 0.0000 0.0000 0.0000 0.0000 0.0000 0.0000 0.0000 0.0000 0.0000 0.0000 0.0000 0.0000 0.0000 0.0000 0.0000 0.0000 0.0000 0.0000 0.0000 0.0000 0.0000 0.0000 0.0000 0.0000 0.0000 0.0000 0.0000 0.0000 0.0000 0.0000 0.0000 0.0000 0.0000 0.0000 0.0000 0.0000 0.0000 0.0237 0.0773 0.1313 0.1859 0.2409 0.2964 0.3524 0.4089 0.4658 0.5233 0.5812 0.6396 0.6984 0.7578 0.8176 0.8779 0.9387 1.0000"/></feComponentTransfer></filter>
<filter id="hotmapC" x="0" y="0" width="1" height="1" color-interpolation-filters="sRGB"><feTurbulence type="fractalNoise" baseFrequency="0.75" numOctaves="2" seed="5" result="n"/><feColorMatrix in="n" type="matrix" values="1 0 0 0 0  1 0 0 0 0  1 0 0 0 0  0 0 0 0 1" result="nn"/><feColorMatrix in="SourceGraphic" type="matrix" values="0.333 0.333 0.333 0 0  0.333 0.333 0.333 0 0  0.333 0.333 0.333 0 0  0 0 0 0 1" result="src"/><feComposite in="src" in2="nn" operator="arithmetic" k1="0.3" k2="0.85" k3="0" k4="0" result="mod"/><feComponentTransfer in="mod"><feFuncR type="table" tableValues="0.0416 0.0418 0.0422 0.0430 0.0442 0.0456 0.0474 0.0495 0.0519 0.0546 0.0576 0.0610 0.0647 0.0687 0.0730 0.0777 0.0826 0.0879 0.0935 0.0995 0.1057 0.1123 0.1192 0.1264 0.1339 0.1418 0.1499 0.1584 0.1672 0.1764 0.1858 0.1956 0.2057 0.2161 0.2269 0.2379 0.2493 0.2610 0.2730 0.2854 0.2980 0.3110 0.3243 0.3379 0.3519 0.3661 0.3807 0.3956 0.4108 0.4264 0.4423 0.4584 0.4750 0.4918 0.5089 0.5264 0.5442 0.5623 0.5807 0.5995 0.6185 0.6379 0.6577 0.6777 0.6980 0.7187 0.7397 0.7610 0.7827 0.8046 0.8269 0.8495 0.8724 0.8956 0.9192 0.9431 0.9673 0.9918 1.0000 1.0000 1.0000 1.0000 1.0000 1.0000 1.0000 1.0000 1.0000 1.0000 1.0000 1.0000 1.0000 1.0000 1.0000 1.0000 1.0000 1.0000 1.0000 1.0000 1.0000 1.0000 1.0000 1.0000 1.0000 1.0000 1.0000 1.0000 1.0000 1.0000 1.0000 1.0000 1.0000 1.0000 1.0000 1.0000 1.0000 1.0000 1.0000 1.0000 1.0000 1.0000 1.0000 1.0000 1.0000 1.0000 1.0000 1.0000 1.0000 1.0000 1.0000"/><feFuncG type="table" tableValues="0.0000 0.0000 0.0000 0.0000 0.0000 0.0000 0.0000 0.0000 0.0000 0.0000 0.0000 0.0000 0.0000 0.0000 0.0000 0.0000 0.0000 0.0000 0.0000 0.0000 0.0000 0.0000 0.0000 0.0000 0.0000 0.0000 0.0000 0.0000 0.0000 0.0000 0.0000 0.0000 0.0000 0.0000 0.0000 0.0000 0.0000 0.0000 0.0000 0.0000 0.0000 0.0000 0.0000 0.0000 0.0000 0.0000 0.0000 0.0000 0.0000 0.0000 0.0000 0.0000 0.0000 0.0000 0.0000 0.0000 0.0000 0.0000 0.0000 0.0000 0.0000 0.0000 0.0000 0.0000 0.0000 0.0000 0.0000 0.0000 0.0000 0.0000 0.0000 0.0000 0.0000 0.0000 0.0000 0.0000 0.0000 0.0000 0.0166 0.0418 0.0673 0.0930 0.1192 0.1456 0.1723 0.1994 0.2268 0.2545 0.2826 0.3109 0.3396 0.3686 0.3979 0.4275 0.4575 0.4878 0.5184 0.5493 0.5805 0.6121 0.6440 0.6762 0.7087 0.7415 0.7747 0.8082 0.8420 0.8761 0.9105 0.9453 0.9804 1.0000 1.0000 1.0000 1.0000 1.0000 1.0000 1.0000 1.0000 1.0000 1.0000 1.0000 1.0000 1.0000 1.0000 1.0000 1.0000 1.0000 1.0000"/><feFuncB type="table" tableValues="0.0000 0.0000 0.0000 0.0000 0.0000 0.0000 0.0000 0.0000 0.0000 0.0000 0.0000 0.0000 0.0000 0.0000 0.0000 0.0000 0.0000 0.0000 0.0000 0.0000 0.0000 0.0000 0.0000 0.0000 0.0000 0.0000 0.0000 0.0000 0.0000 0.0000 0.0000 0.0000 0.0000 0.0000 0.0000 0.0000 0.0000 0.0000 0.0000 0.0000 0.0000 0.0000 0.0000 0.0000 0.0000 0.0000 0.0000 0.0000 0.0000 0.0000 0.0000 0.0000 0.0000 0.0000 0.0000 0.0000 0.0000 0.0000 0.0000 0.0000 0.0000 0.0000 0.0000 0.0000 0.0000 0.0000 0.0000 0.0000 0.0000 0.0000 0.0000 0.0000 0.0000 0.0000 0.0000 0.0000 0.0000 0.0000 0.0000 0.0000 0.0000 0.0000 0.0000 0.0000 0.0000 0.0000 0.0000 0.0000 0.0000 0.0000 0.0000 0.0000 0.0000 0.0000 0.0000 0.0000 0.0000 0.0000 0.0000 0.0000 0.0000 0.0000 0.0000 0.0000 0.0000 0.0000 0.0000 0.0000 0.0000 0.0000 0.0000 0.0237 0.0773 0.1313 0.1859 0.2409 0.2964 0.3524 0.4089 0.4658 0.5233 0.5812 0.6396 0.6984 0.7578 0.8176 0.8779 0.9387 1.0000"/><feFuncA type="linear" slope="0" intercept="1"/></feComponentTransfer></filter>
<clipPath id="clipC"><path d="M192,501.5 L482.5,501.5 L507.5,815 L166.4,815 Z"/></clipPath>
<clipPath id="clipD"><path d="M884.3,500.3 L1174,500.3 L1199,815 L859.5,815 Z"/></clipPath>
<clipPath id="clipCup"><rect x="150" y="480" width="380" height="124"/></clipPath>
</defs>
<defs><linearGradient id="cbase" x1="0" y1="604.8" x2="0" y2="820" gradientUnits="userSpaceOnUse"><stop offset="0" stop-color="rgb(48,48,48)"/><stop offset="0.1" stop-color="rgb(54,54,54)"/><stop offset="0.2" stop-color="rgb(76,76,76)"/><stop offset="0.3" stop-color="rgb(67,67,67)"/><stop offset="0.6" stop-color="rgb(57,57,57)"/><stop offset="1" stop-color="rgb(54,54,54)"/></linearGradient></defs>
<g clip-path="url(#clipC)"><g filter="url(#hotmapC)" style="isolation:isolate">
<rect x="150" y="490" width="380" height="330" fill="rgb(28,28,28)"/>
<rect x="150" y="604.8" width="380" height="215" fill="url(#cbase)"/>
<ellipse cx="333.2" cy="648" rx="165" ry="22" fill="rgb(99,99,99)" filter="url(#b10)" style="mix-blend-mode:lighten"/>
<ellipse cx="333.2" cy="632" rx="70" ry="30" fill="rgb(95,95,95)" filter="url(#b12)" style="mix-blend-mode:lighten"/>
<ellipse cx="333.2" cy="598" rx="45" ry="35" fill="rgb(62,62,62)" filter="url(#b14)" style="mix-blend-mode:lighten"/>
<ellipse cx="285" cy="612" rx="28" ry="22" fill="rgb(67,67,67)" filter="url(#b10)" style="mix-blend-mode:lighten"/>
<ellipse cx="381.4" cy="612" rx="28" ry="22" fill="rgb(67,67,67)" filter="url(#b10)" style="mix-blend-mode:lighten"/>
<ellipse cx="250" cy="690" rx="35" ry="25" fill="rgb(102,102,102)" filter="url(#b10)" style="mix-blend-mode:lighten"/>
<ellipse cx="416.4" cy="690" rx="35" ry="25" fill="rgb(102,102,102)" filter="url(#b10)" style="mix-blend-mode:lighten"/>
<ellipse cx="225" cy="740" rx="45" ry="55" fill="rgb(92,92,92)" filter="url(#b14)" style="mix-blend-mode:lighten"/>
<ellipse cx="441.4" cy="740" rx="45" ry="55" fill="rgb(92,92,92)" filter="url(#b14)" style="mix-blend-mode:lighten"/>
<ellipse cx="195" cy="770" rx="25" ry="50" fill="rgb(81,81,81)" filter="url(#b12)" style="mix-blend-mode:lighten"/>
<ellipse cx="471.4" cy="770" rx="25" ry="50" fill="rgb(81,81,81)" filter="url(#b12)" style="mix-blend-mode:lighten"/>
<ellipse cx="290" cy="720" rx="20" ry="30" fill="rgb(72,72,72)" filter="url(#b10)" style="mix-blend-mode:lighten"/>
<ellipse cx="376.4" cy="720" rx="20" ry="30" fill="rgb(72,72,72)" filter="url(#b10)" style="mix-blend-mode:lighten"/>
<ellipse cx="265" cy="790" rx="30" ry="30" fill="rgb(76,76,76)" filter="url(#b12)" style="mix-blend-mode:lighten"/>
<ellipse cx="401.4" cy="790" rx="30" ry="30" fill="rgb(76,76,76)" filter="url(#b12)" style="mix-blend-mode:lighten"/>
<path d="M292,522 C292.83,525.33 295.17,534.83 297,542 C298.83,549.17 300.83,557 303,565 C305.17,573 307.83,582.5 310,590 C312.17,597.5 314,603.33 316,610 C318,616.67 321,626.67 322,630" stroke="rgb(65,65,65)" stroke-width="22" stroke-linecap="round" fill="none" filter="url(#b7)" style="mix-blend-mode:lighten"/>
<path d="M374.4,522 C373.57,525.33 371.23,534.83 369.4,542 C367.57,549.17 365.57,557 363.4,565 C361.23,573 358.57,582.5 356.4,590 C354.23,597.5 352.4,603.33 350.4,610 C348.4,616.67 345.4,626.67 344.4,630" stroke="rgb(65,65,65)" stroke-width="22" stroke-linecap="round" fill="none" filter="url(#b7)" style="mix-blend-mode:lighten"/>
<path d="M294,530 C294.83,533 297.17,541.83 299,548 C300.83,554.17 303,560 305,567 C307,574 309,582.67 311,590 C313,597.33 315.17,604.33 317,611 C318.83,617.67 321.17,626.83 322,630" stroke="rgb(88,88,88)" stroke-width="10" stroke-linecap="round" fill="none" filter="url(#b3)" style="mix-blend-mode:lighten"/>
<path d="M372.4,530 C371.57,533 369.23,541.83 367.4,548 C365.57,554.17 363.4,560 361.4,567 C359.4,574 357.4,582.67 355.4,590 C353.4,597.33 351.23,604.33 349.4,611 C347.57,617.67 345.23,626.83 344.4,630" stroke="rgb(88,88,88)" stroke-width="10" stroke-linecap="round" fill="none" filter="url(#b3)" style="mix-blend-mode:lighten"/>
<path d="M305,568 C306,571.67 309,582.83 311,590 C313,597.17 315.08,604.33 317,611 C318.92,617.67 321.58,626.83 322.5,630" stroke="rgb(114,114,114)" stroke-width="12" stroke-linecap="round" fill="none" filter="url(#b4)" style="mix-blend-mode:lighten"/>
<path d="M361.4,568 C360.4,571.67 357.4,582.83 355.4,590 C353.4,597.17 351.32,604.33 349.4,611 C347.48,617.67 344.82,626.83 343.9,630" stroke="rgb(114,114,114)" stroke-width="12" stroke-linecap="round" fill="none" filter="url(#b4)" style="mix-blend-mode:lighten"/>
<path d="M313,598 C314,601.33 317.33,611.83 319,618 C320.67,624.17 322.33,632.17 323,635" stroke="rgb(140,140,140)" stroke-width="10" stroke-linecap="round" fill="none" filter="url(#b3)" style="mix-blend-mode:lighten"/>
<path d="M353.4,598 C352.4,601.33 349.07,611.83 347.4,618 C345.73,624.17 344.07,632.17 343.4,635" stroke="rgb(140,140,140)" stroke-width="10" stroke-linecap="round" fill="none" filter="url(#b3)" style="mix-blend-mode:lighten"/>
<path d="M332,655 C331.08,657.17 328.33,663.83 326.5,668 C324.67,672.17 324.42,671.33 321,680 C317.58,688.67 311.5,706.67 306,720 C300.5,733.33 293.17,748.33 288,760 C282.83,771.67 278.67,780.83 275,790 C271.33,799.17 267.92,809.67 266,815 C264.08,820.33 263.92,820.83 263.5,822" stroke="rgb(102,102,102)" stroke-width="32" stroke-linecap="round" fill="none" filter="url(#b8)" style="mix-blend-mode:lighten"/>
<path d="M334.4,655 C335.32,657.17 338.07,663.83 339.9,668 C341.73,672.17 341.98,671.33 345.4,680 C348.82,688.67 354.9,706.67 360.4,720 C365.9,733.33 373.23,748.33 378.4,760 C383.57,771.67 387.73,780.83 391.4,790 C395.07,799.17 398.48,809.67 400.4,815 C402.32,820.33 402.48,820.83 402.9,822" stroke="rgb(102,102,102)" stroke-width="32" stroke-linecap="round" fill="none" filter="url(#b8)" style="mix-blend-mode:lighten"/>
<path d="M332,655 C331.08,657.17 328.33,663.83 326.5,668 C324.67,672.17 324.42,671.33 321,680 C317.58,688.67 311.5,706.67 306,720 C300.5,733.33 293.17,748.33 288,760 C282.83,771.67 278.67,780.83 275,790 C271.33,799.17 267.92,809.67 266,815 C264.08,820.33 263.92,820.83 263.5,822" stroke="rgb(137,137,137)" stroke-width="10" stroke-linecap="round" fill="none" filter="url(#b3)" style="mix-blend-mode:lighten"/>
<path d="M334.4,655 C335.32,657.17 338.07,663.83 339.9,668 C341.73,672.17 341.98,671.33 345.4,680 C348.82,688.67 354.9,706.67 360.4,720 C365.9,733.33 373.23,748.33 378.4,760 C383.57,771.67 387.73,780.83 391.4,790 C395.07,799.17 398.48,809.67 400.4,815 C402.32,820.33 402.48,820.83 402.9,822" stroke="rgb(137,137,137)" stroke-width="10" stroke-linecap="round" fill="none" filter="url(#b3)" style="mix-blend-mode:lighten"/>
<path d="M329,660 C327.67,663.33 324,672 321,680 C318,688 312.67,703.33 311,708" stroke="rgb(149,149,149)" stroke-width="10" stroke-linecap="round" fill="none" filter="url(#b3)" style="mix-blend-mode:lighten"/>
<path d="M337.4,660 C338.73,663.33 342.4,672 345.4,680 C348.4,688 353.73,703.33 355.4,708" stroke="rgb(149,149,149)" stroke-width="10" stroke-linecap="round" fill="none" filter="url(#b3)" style="mix-blend-mode:lighten"/>
<path d="M290,655 C286.33,656.17 274.33,658.67 268,662 C261.67,665.33 256.67,670 252,675 C247.33,680 243.5,685.83 240,692 C236.5,698.17 233.5,705.33 231,712 C228.5,718.67 226.33,725.67 225,732 C223.67,738.33 223.33,747 223,750" stroke="rgb(120,120,120)" stroke-width="22" stroke-linecap="round" fill="none" filter="url(#b6)" style="mix-blend-mode:lighten"/>
<path d="M376.4,655 C380.07,656.17 392.07,658.67 398.4,662 C404.73,665.33 409.73,670 414.4,675 C419.07,680 422.9,685.83 426.4,692 C429.9,698.17 432.9,705.33 435.4,712 C437.9,718.67 440.07,725.67 441.4,732 C442.73,738.33 443.07,747 443.4,750" stroke="rgb(120,120,120)" stroke-width="22" stroke-linecap="round" fill="none" filter="url(#b6)" style="mix-blend-mode:lighten"/>
<path d="M268,662 C265.33,664.17 256.67,670 252,675 C247.33,680 243.5,685.83 240,692 C236.5,698.17 233.5,705.33 231,712 C228.5,718.67 226,728.67 225,732" stroke="rgb(130,130,130)" stroke-width="10" stroke-linecap="round" fill="none" filter="url(#b3)" style="mix-blend-mode:lighten"/>
<path d="M398.4,662 C401.07,664.17 409.73,670 414.4,675 C419.07,680 422.9,685.83 426.4,692 C429.9,698.17 432.9,705.33 435.4,712 C437.9,718.67 440.4,728.67 441.4,732" stroke="rgb(130,130,130)" stroke-width="10" stroke-linecap="round" fill="none" filter="url(#b3)" style="mix-blend-mode:lighten"/>
<path d="M224,751 C222.67,754.5 219,763.83 216,772 C213,780.17 208.83,792 206,800 C203.17,808 200.17,816.67 199,820" stroke="rgb(95,95,95)" stroke-width="16" stroke-linecap="round" fill="none" filter="url(#b6)" style="mix-blend-mode:lighten"/>
<path d="M442.4,751 C443.73,754.5 447.4,763.83 450.4,772 C453.4,780.17 457.57,792 460.4,800 C463.23,808 466.23,816.67 467.4,820" stroke="rgb(95,95,95)" stroke-width="16" stroke-linecap="round" fill="none" filter="url(#b6)" style="mix-blend-mode:lighten"/>
<ellipse cx="223.5" cy="750" rx="7" ry="8" fill="rgb(153,153,153)" filter="url(#b3)" style="mix-blend-mode:lighten"/>
<ellipse cx="442.9" cy="750" rx="7" ry="8" fill="rgb(153,153,153)" filter="url(#b3)" style="mix-blend-mode:lighten"/>
<ellipse cx="223.5" cy="750" rx="16" ry="18" fill="rgb(125,125,125)" filter="url(#b6)" style="mix-blend-mode:lighten"/>
<ellipse cx="442.9" cy="750" rx="16" ry="18" fill="rgb(125,125,125)" filter="url(#b6)" style="mix-blend-mode:lighten"/>
<ellipse cx="222" cy="792" rx="28" ry="30" fill="rgb(85,85,85)" filter="url(#b10)" style="mix-blend-mode:lighten"/>
<ellipse cx="444.4" cy="792" rx="28" ry="30" fill="rgb(85,85,85)" filter="url(#b10)" style="mix-blend-mode:lighten"/>
<path d="M187,655 C186.17,662.5 183.67,682.5 182,700 C180.33,717.5 178.83,740 177,760 C175.17,780 172,810 171,820" stroke="rgb(92,92,92)" stroke-width="12" stroke-linecap="round" fill="none" filter="url(#b5)" style="mix-blend-mode:lighten"/>
<path d="M479.4,655 C480.23,662.5 482.73,682.5 484.4,700 C486.07,717.5 487.57,740 489.4,760 C491.23,780 494.4,810 495.4,820" stroke="rgb(92,92,92)" stroke-width="12" stroke-linecap="round" fill="none" filter="url(#b5)" style="mix-blend-mode:lighten"/>
<path d="M180,645 C188.33,645 215,644.33 230,645 C245,645.67 258.33,648.17 270,649 C281.67,649.83 289.47,650 300,650 C310.53,650 327.67,649.17 333.2,649" stroke="rgb(122,122,122)" stroke-width="24" stroke-linecap="round" fill="none" filter="url(#b5)" style="mix-blend-mode:lighten"/>
<path d="M486.4,645 C478.07,645 451.4,644.33 436.4,645 C421.4,645.67 408.07,648.17 396.4,649 C384.73,649.83 376.93,650 366.4,650 C355.87,650 338.73,649.17 333.2,649" stroke="rgb(122,122,122)" stroke-width="24" stroke-linecap="round" fill="none" filter="url(#b5)" style="mix-blend-mode:lighten"/>
<path d="M215,645.5 C219.17,645.58 230.83,645.42 240,646 C249.17,646.58 260,648.33 270,649 C280,649.67 289.47,650 300,650 C310.53,650 327.67,649.17 333.2,649" stroke="rgb(128,128,128)" stroke-width="30" stroke-linecap="round" fill="none" filter="url(#b6)" style="mix-blend-mode:lighten"/>
<path d="M451.4,645.5 C447.23,645.58 435.57,645.42 426.4,646 C417.23,646.58 406.4,648.33 396.4,649 C386.4,649.67 376.93,650 366.4,650 C355.87,650 338.73,649.17 333.2,649" stroke="rgb(128,128,128)" stroke-width="30" stroke-linecap="round" fill="none" filter="url(#b6)" style="mix-blend-mode:lighten"/>
<ellipse cx="285" cy="678" rx="30" ry="24" fill="rgb(128,128,128)" filter="url(#b8)" style="mix-blend-mode:lighten"/>
<ellipse cx="381.4" cy="678" rx="30" ry="24" fill="rgb(128,128,128)" filter="url(#b8)" style="mix-blend-mode:lighten"/>
<ellipse cx="268" cy="598" rx="35" ry="18" fill="rgb(65,65,65)" filter="url(#b8)" style="mix-blend-mode:lighten"/>
<ellipse cx="398.4" cy="598" rx="35" ry="18" fill="rgb(65,65,65)" filter="url(#b8)" style="mix-blend-mode:lighten"/>
<ellipse cx="258" cy="582" rx="40" ry="22" fill="rgb(54,54,54)" filter="url(#b10)" style="mix-blend-mode:lighten"/>
<ellipse cx="408.4" cy="582" rx="40" ry="22" fill="rgb(54,54,54)" filter="url(#b10)" style="mix-blend-mode:lighten"/>
<path d="M182,645 C190,644.92 215.33,643.83 230,644.5 C244.67,645.17 258.33,648.08 270,649 C281.67,649.92 289.47,650 300,650 C310.53,650 327.67,649.17 333.2,649" stroke="rgb(144,144,144)" stroke-width="10" stroke-linecap="round" fill="none" filter="url(#b2)" style="mix-blend-mode:lighten"/>
<path d="M484.4,645 C476.4,644.92 451.07,643.83 436.4,644.5 C421.73,645.17 408.07,648.08 396.4,649 C384.73,649.92 376.93,650 366.4,650 C355.87,650 338.73,649.17 333.2,649" stroke="rgb(144,144,144)" stroke-width="10" stroke-linecap="round" fill="none" filter="url(#b2)" style="mix-blend-mode:lighten"/>
<path d="M195,645 C200.83,644.92 218.83,644.17 230,644.5 C241.17,644.83 256.67,646.58 262,647" stroke="rgb(165,165,165)" stroke-width="8" stroke-linecap="round" fill="none" filter="url(#b2)" style="mix-blend-mode:lighten"/>
<path d="M471.4,645 C465.57,644.92 447.57,644.17 436.4,644.5 C425.23,644.83 409.73,646.58 404.4,647" stroke="rgb(165,165,165)" stroke-width="8" stroke-linecap="round" fill="none" filter="url(#b2)" style="mix-blend-mode:lighten"/>
<ellipse cx="243" cy="644.5" rx="14" ry="5" fill="rgb(189,189,189)" filter="url(#b2)" style="mix-blend-mode:lighten"/>
<ellipse cx="423.4" cy="644.5" rx="14" ry="5" fill="rgb(189,189,189)" filter="url(#b2)" style="mix-blend-mode:lighten"/>
<ellipse cx="277" cy="650" rx="14" ry="7" fill="rgb(201,201,201)" filter="url(#b2)" style="mix-blend-mode:lighten"/>
<ellipse cx="389.4" cy="650" rx="14" ry="7" fill="rgb(201,201,201)" filter="url(#b2)" style="mix-blend-mode:lighten"/>
<ellipse cx="277" cy="650" rx="9" ry="4.5" fill="rgb(225,225,225)" filter="url(#b1)" style="mix-blend-mode:lighten"/>
<ellipse cx="389.4" cy="650" rx="9" ry="4.5" fill="rgb(225,225,225)" filter="url(#b1)" style="mix-blend-mode:lighten"/>
<ellipse cx="440" cy="645.5" rx="24" ry="5" fill="rgb(184,184,184)" filter="url(#b2)" style="mix-blend-mode:lighten"/>
<ellipse cx="333.2" cy="647" rx="34" ry="30" fill="rgb(140,140,140)" filter="url(#b7)" style="mix-blend-mode:lighten"/>
<ellipse cx="333.2" cy="648" rx="26" ry="20" fill="rgb(153,153,153)" filter="url(#b5)" style="mix-blend-mode:lighten"/>
<ellipse cx="322.5" cy="647" rx="9" ry="22" fill="rgb(180,180,180)" filter="url(#b3)" style="mix-blend-mode:lighten"/>
<ellipse cx="343.9" cy="647" rx="9" ry="22" fill="rgb(180,180,180)" filter="url(#b3)" style="mix-blend-mode:lighten"/>
<ellipse cx="323" cy="649.5" rx="12" ry="5" fill="rgb(201,201,201)" filter="url(#b2)" style="mix-blend-mode:lighten"/>
<ellipse cx="343.4" cy="649.5" rx="12" ry="5" fill="rgb(201,201,201)" filter="url(#b2)" style="mix-blend-mode:lighten"/>
<ellipse cx="323.5" cy="650" rx="5" ry="13" fill="rgb(216,216,216)" filter="url(#b2)" style="mix-blend-mode:lighten"/>
<ellipse cx="342.9" cy="650" rx="5" ry="13" fill="rgb(216,216,216)" filter="url(#b2)" style="mix-blend-mode:lighten"/>
<ellipse cx="321.5" cy="649.5" rx="4" ry="4" fill="rgb(239,239,239)" filter="url(#b1)" style="mix-blend-mode:lighten"/>
<ellipse cx="344.9" cy="649.5" rx="4" ry="4" fill="rgb(239,239,239)" filter="url(#b1)" style="mix-blend-mode:lighten"/>
<ellipse cx="324" cy="633" rx="4.5" ry="5" fill="rgb(207,207,207)" filter="url(#b2)" style="mix-blend-mode:lighten"/>
<ellipse cx="342.4" cy="633" rx="4.5" ry="5" fill="rgb(207,207,207)" filter="url(#b2)" style="mix-blend-mode:lighten"/>
<g clip-path="url(#clipCup)">
<ellipse cx="224.5" cy="604" rx="18" ry="12" fill="rgb(128,128,128)" filter="url(#b4)" style="mix-blend-mode:lighten"/>
<ellipse cx="441.9" cy="604" rx="18" ry="12" fill="rgb(128,128,128)" filter="url(#b4)" style="mix-blend-mode:lighten"/>
<ellipse cx="224.5" cy="604" rx="12" ry="5" fill="rgb(180,180,180)" filter="url(#b2)" style="mix-blend-mode:lighten"/>
<ellipse cx="441.9" cy="604" rx="12" ry="5" fill="rgb(180,180,180)" filter="url(#b2)" style="mix-blend-mode:lighten"/>
</g>
<path d="M188,604.4 H262" stroke="rgb(120,120,120)" stroke-width="1.5" stroke-linecap="round" fill="none" filter="url(#b1)" style="mix-blend-mode:lighten"/>
<path d="M403,604.4 H478" stroke="rgb(120,120,120)" stroke-width="1.5" stroke-linecap="round" fill="none" filter="url(#b1)" style="mix-blend-mode:lighten"/>
</g>
<g filter="url(#hotmap)" style="mix-blend-mode:lighten">
<rect x="150" y="560" width="380" height="80" fill="#000"/>
<g clip-path="url(#clipCup)">
<ellipse cx="224.5" cy="604" rx="12" ry="4.5" fill="rgb(165,165,165)" filter="url(#b2)" style="mix-blend-mode:lighten"/>
<ellipse cx="441.9" cy="604" rx="12" ry="4.5" fill="rgb(165,165,165)" filter="url(#b2)" style="mix-blend-mode:lighten"/>
</g>
<ellipse cx="224.5" cy="603.6" rx="11.5" ry="1.6" fill="rgb(249,249,249)" filter="url(#b1)" style="mix-blend-mode:lighten"/>
<ellipse cx="441" cy="603.6" rx="11.5" ry="1.6" fill="rgb(249,249,249)" filter="url(#b1)" style="mix-blend-mode:lighten"/>
</g></g>
<g clip-path="url(#clipC)" fill="#7a5050" opacity="0.8"><rect x="266.63" y="670.99" width="1" height="1"/><rect x="303.59" y="689.2" width="1" height="1"/><rect x="375.2" y="524.99" width="1" height="1"/><rect x="203.69" y="760.43" width="1" height="1"/><rect x="272.62" y="576.47" width="1" height="1"/><rect x="478.78" y="648.43" width="1" height="1"/><rect x="434.21" y="650.29" width="1" height="1"/><rect x="378.94" y="550.94" width="1" height="1"/><rect x="377.76" y="769.75" width="1" height="1"/><rect x="346.49" y="731.08" width="1" height="1"/><rect x="388" y="524.53" width="1" height="1"/><rect x="412.3" y="685.29" width="1" height="1"/><rect x="284.35" y="514.46" width="1" height="1"/><rect x="442.35" y="649.19" width="1" height="1"/><rect x="401.27" y="773.04" width="1" height="1"/><rect x="399.96" y="785.94" width="1" height="1"/><rect x="310.59" y="749.28" width="1" height="1"/><rect x="324.49" y="790.35" width="1" height="1"/><rect x="446.08" y="534.72" width="1" height="1"/><rect x="238.07" y="571.18" width="1" height="1"/><rect x="470.33" y="638.03" width="1" height="1"/><rect x="375.46" y="596.81" width="1" height="1"/><rect x="342.03" y="622.69" width="1" height="1"/><rect x="298.25" y="683.45" width="1" height="1"/><rect x="363.59" y="780.78" width="1" height="1"/><rect x="390.95" y="788.33" width="1" height="1"/><rect x="439.79" y="807.25" width="1" height="1"/><rect x="387.96" y="554.75" width="1" height="1"/><rect x="440.98" y="799.21" width="1" height="1"/><rect x="453.31" y="678.58" width="1" height="1"/><rect x="399.87" y="569.39" width="1" height="1"/><rect x="432.85" y="679.93" width="1" height="1"/><rect x="279.79" y="524.36" width="1" height="1"/><rect x="439.1" y="806.89" width="1" height="1"/><rect x="224.79" y="749.18" width="1" height="1"/><rect x="314.93" y="550.98" width="1" height="1"/><rect x="282.29" y="739.48" width="1" height="1"/><rect x="444.37" y="518.48" width="1" height="1"/><rect x="372.07" y="518.71" width="1" height="1"/><rect x="401.16" y="605.94" width="1" height="1"/><rect x="446.65" y="804.09" width="1" height="1"/><rect x="341.52" y="809.55" width="1" height="1"/><rect x="286.71" y="528.48" width="1" height="1"/><rect x="367.93" y="514.57" width="1" height="1"/><rect x="255.27" y="629.42" width="1" height="1"/><rect x="370.93" y="552.64" width="1" height="1"/><rect x="211.88" y="769.67" width="1" height="1"/><rect x="287.87" y="797.39" width="1" height="1"/><rect x="451.06" y="620.23" width="1" height="1"/><rect x="328.91" y="663.62" width="1" height="1"/><rect x="380.29" y="686.67" width="1" height="1"/><rect x="356.59" y="694.14" width="1" height="1"/><rect x="463.37" y="659.64" width="1" height="1"/><rect x="320.73" y="724.69" width="1" height="1"/><rect x="266.54" y="596.83" width="1" height="1"/><rect x="473.78" y="663.94" width="1" height="1"/><rect x="353.56" y="508.49" width="1" height="1"/><rect x="316.26" y="681.89" width="1" height="1"/><rect x="205.61" y="692.82" width="1" height="1"/><rect x="377.01" y="523.32" width="1" height="1"/><rect x="375.66" y="647.21" width="1" height="1"/><rect x="390.2" y="612.54" width="1" height="1"/><rect x="397.95" y="730.1" width="1" height="1"/><rect x="206.21" y="523.48" width="1" height="1"/><rect x="389.29" y="798.81" width="1" height="1"/><rect x="270.31" y="644.18" width="1" height="1"/><rect x="365.95" y="602.61" width="1" height="1"/><rect x="301.91" y="600.36" width="1" height="1"/><rect x="303.36" y="686.66" width="1" height="1"/><rect x="284.11" y="620.03" width="1" height="1"/></g>
<g clip-path="url(#clipD)"><g filter="url(#hotmap)" style="isolation:isolate">
<rect x="850" y="490" width="360" height="330" fill="#000"/>
<ellipse cx="887.5" cy="605.6" rx="8" ry="1.7" fill="rgb(130,130,130)" filter="url(#b1)" style="mix-blend-mode:lighten"/>
<ellipse cx="941" cy="605.6" rx="7" ry="1.7" fill="rgb(125,125,125)" filter="url(#b1)" style="mix-blend-mode:lighten"/>
<ellipse cx="952" cy="605.6" rx="8" ry="1.2" fill="rgb(72,72,72)" filter="url(#b1)" style="mix-blend-mode:lighten"/>
<ellipse cx="1160" cy="605.9" rx="8" ry="1.7" fill="rgb(130,130,130)" filter="url(#b1)" style="mix-blend-mode:lighten"/>
<ellipse cx="1100" cy="605.9" rx="8" ry="1.3" fill="rgb(72,72,72)" filter="url(#b1)" style="mix-blend-mode:lighten"/>
<ellipse cx="1085" cy="605.9" rx="8" ry="1" fill="rgb(57,57,57)" filter="url(#b1)" style="mix-blend-mode:lighten"/>
<ellipse cx="915" cy="605.5" rx="16" ry="3.2" fill="rgb(140,140,140)" filter="url(#b1)" style="mix-blend-mode:lighten"/>
<ellipse cx="1134.2" cy="605.9" rx="18" ry="3.2" fill="rgb(140,140,140)" filter="url(#b1)" style="mix-blend-mode:lighten"/>
<ellipse cx="915" cy="605.5" rx="14.5" ry="2.3" fill="rgb(189,189,189)" filter="url(#b1)" style="mix-blend-mode:lighten"/>
<ellipse cx="1134.2" cy="605.9" rx="16.5" ry="2.3" fill="rgb(189,189,189)" filter="url(#b1)" style="mix-blend-mode:lighten"/>
<ellipse cx="915" cy="605.4" rx="11" ry="1.2" fill="rgb(255,255,255)" filter="url(#b0)" style="mix-blend-mode:lighten"/>
<ellipse cx="1134.2" cy="605.8" rx="12.5" ry="1.2" fill="rgb(255,255,255)" filter="url(#b0)" style="mix-blend-mode:lighten"/>
</g></g>
<path d="M123,501 H553.2 V815.3 H123 Z M814.2,500.3 H1244.6 V815.2 H814.2 Z" fill="none" stroke="#000" stroke-width="1.5"/>
<path d="M123,815.3 v6 M813.85,815.2 v6 M230.55,815.3 v6 M921.53,815.2 v6 M338.1,815.3 v6 M1029.2,815.2 v6 M445.65,815.3 v6 M1136.88,815.2 v6 M553.2,815.3 v6 M1244.55,815.2 v6 M176.78,815.3 v3 M867.69,815.2 v3 M284.33,815.3 v3 M975.36,815.2 v3 M391.88,815.3 v3 M1083.04,815.2 v3 M499.43,815.3 v3 M1190.71,815.2 v3 M123,689.46 h6.5 M814.2,689.36 h6.5 M123,563.62 h6.5 M814.2,563.52 h6.5 M123,752.38 h3.3 M814.2,752.28 h3.3 M123,626.54 h3.3 M814.2,626.44 h3.3" stroke="#000" stroke-width="1.3" fill="none"/>
<path d="M205.2,561.5 V597.7 M197.8,585.2 L205.2,598.5 L212.6,585.2" stroke="#fff" stroke-width="2" fill="none" stroke-linejoin="miter"/>
<path d="M458.6,563 V599.2 M451.2,586.9 L458.6,600 L466,586.9" stroke="#fff" stroke-width="2" fill="none" stroke-linejoin="miter"/>
<path d="M896,562.8 V598.8 M888.5,586.7 L896,599.6 L903.5,586.7" stroke="#fff" stroke-width="2" fill="none" stroke-linejoin="miter"/>
<path d="M1150.5,564.4 V600.4 M1143,587.9 L1150.5,601.2 L1158,587.9" stroke="#fff" stroke-width="2" fill="none" stroke-linejoin="miter"/>
<rect x="571.1" y="501.6" width="19.7" height="314.4" fill="url(#hot)" stroke="#222" stroke-width="1.2"/>
<path d="M590.8,784.56 h-5.5 M590.8,753.12 h-5.5 M590.8,721.68 h-5.5 M590.8,690.24 h-5.5 M590.8,658.8 h-5.5 M590.8,627.36 h-5.5 M590.8,595.92 h-5.5 M590.8,564.48 h-5.5 M590.8,533.04 h-5.5" stroke="#555" stroke-width="1" fill="none"/>
<rect x="1259.7" y="500.2" width="19.6" height="314" fill="url(#hot)" stroke="#222" stroke-width="1.2"/>
<path d="M1279.3,782.8 h-5.5 M1279.3,751.4 h-5.5 M1279.3,720 h-5.5 M1279.3,688.6 h-5.5 M1279.3,657.2 h-5.5 M1279.3,625.8 h-5.5 M1279.3,594.4 h-5.5 M1279.3,563 h-5.5 M1279.3,531.6 h-5.5" stroke="#555" stroke-width="1" fill="none"/>
<text x="-0.45" y="483.7" font-size="26" font-weight="bold" fill="#000">c</text>
<text x="695.66" y="483.5" font-size="26" font-weight="bold" fill="#000">d</text>
<text x="55.19" y="573" font-size="26" fill="#000">1600</text>
<text x="747.59" y="573" font-size="26" fill="#000">1600</text>
<text x="55.19" y="698.8" font-size="26" fill="#000">1500</text>
<text x="747.59" y="698.8" font-size="26" fill="#000">1500</text>
<text x="55.19" y="824.4" font-size="26" fill="#000">1400</text>
<text x="747.59" y="824.4" font-size="26" fill="#000">1400</text>
<text x="105.98" y="847" font-size="26" fill="#000">−1</text>
<text x="798.18" y="847" font-size="26" fill="#000">−1</text>
<text x="205.19" y="848.9" font-size="26" fill="#000">−0.5</text>
<text x="897" y="848.9" font-size="26" fill="#000">−0.5</text>
<text x="330.09" y="847.1" font-size="26" fill="#000">0</text>
<text x="1023.08" y="847.1" font-size="26" fill="#000">0</text>
<text x="428.43" y="849.2" font-size="26" fill="#000">0.5</text>
<text x="1119.93" y="849.2" font-size="26" fill="#000">0.5</text>
<text x="543.96" y="848.1" font-size="26" fill="#000">1</text>
<text x="1236.96" y="848.1" font-size="26" fill="#000">1</text>
<text transform="translate(36.4,676.8) rotate(-90)" text-anchor="middle" font-size="26.5" fill="#000">Wavelength (nm)</text>
<text transform="translate(729.5,677.1) rotate(-90)" text-anchor="middle" font-size="26.5" fill="#000">Wavelength (nm)</text>
<text x="299.8" y="883.8" font-size="26.5" font-style="italic" fill="#000">k</text>
<text x="313.05" y="890.4" font-size="18" font-style="italic">x</text>
<text x="321.75" y="883.8" font-size="26.5"><tspan font-style="italic">a</tspan>/2π</text>
<text x="991" y="883.8" font-size="26.5" font-style="italic" fill="#000">k</text>
<text x="1004.25" y="890.4" font-size="18" font-style="italic">x</text>
<text x="1012.95" y="883.8" font-size="26.5"><tspan font-style="italic">a</tspan>/2π</text>
<text x="596.81" y="523.6" font-size="26.5" fill="#000">12</text>
<text x="600.94" y="817" font-size="26.5" fill="#000">0</text>
<text x="1291.94" y="523.7" font-size="26.5" fill="#000">5000</text>
<text x="1292.84" y="816.5" font-size="26.5" fill="#000">0</text>
<text transform="translate(602,662) rotate(90)" text-anchor="middle" font-size="26.5" fill="#000">Counts</text>
<text transform="translate(1294.4,657.7) rotate(90)" text-anchor="middle" font-size="26.5" fill="#000">Counts</text>
<text x="301.19" y="488" font-size="27" fill="#c80000">~0.96</text>
<text x="369.5" y="488" font-size="27" font-style="italic" fill="#c80000">P</text>
<text x="386.71" y="494" font-size="18" fill="#c80000">th</text>
<text x="992.78" y="488" font-size="27" fill="#c80000">~1.26</text>
<text x="1061.1" y="488" font-size="27" font-style="italic" fill="#c80000">P</text>
<text x="1078.31" y="494" font-size="18" fill="#c80000">th</text>
</svg></body></html>
